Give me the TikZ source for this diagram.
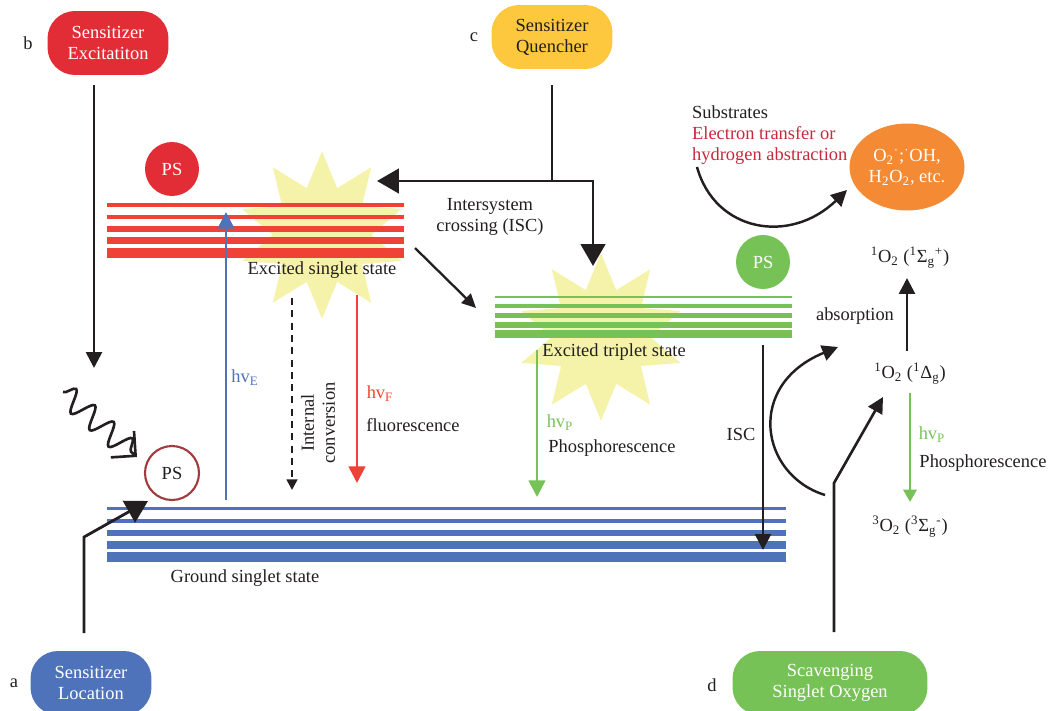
\documentclass[tikz,border=0pt]{standalone}
\usepackage{fontspec}
\setmainfont{Liberation Serif}
\usepackage{tikz}
\usetikzlibrary{positioning}
\usetikzlibrary{shapes.geometric}
\usetikzlibrary{arrows.meta}
\usetikzlibrary{decorations.pathmorphing}
\usepackage{xcolor}
\definecolor{exred}{HTML}{E32D36}
\definecolor{lvred}{HTML}{EF4136}
\definecolor{lvblue}{HTML}{4F73BA}
\definecolor{lvgreen}{HTML}{77C256}
\definecolor{quyellow}{HTML}{FDC73E}
\definecolor{roorange}{HTML}{F48A33}
\definecolor{flash}{HTML}{F5F2A9}
\definecolor{psring}{HTML}{A23A3E}
\definecolor{etred}{HTML}{C8283C}
\definecolor{ink}{HTML}{231F20}
\tikzset{every picture/.style={font=\fontsize{10.5}{12}\selectfont}}
\tikzset{stage/.style={
          rounded corners=0.55cm,
          minimum width=2.42cm, minimum height=1.28cm,
          align=center, text=white, inner sep=2pt
          },
        ps/.style={circle, minimum size=1.08cm, inner sep=0pt, text=white},
        flashstar/.style={star, star points=10, star point ratio=1.7,
          fill=flash, minimum size=3.35cm, inner sep=0pt},
        lab/.style={inner sep=1pt, align=center, text=ink},
        wire/.style={ink, line width=1.5pt},
        smallhead/.style={wire, -{Triangle[length=9pt,width=9pt]}},
        bighead/.style={wire, line width=1.6pt, -{Triangle[length=12.5pt,width=14pt]}},
        photon/.style={line width=1.5pt, -{Triangle[length=9.5pt,width=9.5pt]}},
}

\begin{document}
\begin{tikzpicture}[x=0.02cm, y=-0.02cm]
      \useasboundingbox (0,0) rectangle (1050,710);
      \clip (0,0) rectangle (1050,710);
      % flashes behind the levels
      \node[flashstar] (flash1) at (322,235) {};
      \node[flashstar] (flash2) at (601,337) {};

      % SENSITIZER BOXES
      \node[stage, fill=exred] (excite) at (108,43) {Sensitizer\\Excitatiton};
      \node[lab] (tagb) at (28,43) {b};
      \node[stage, fill=quyellow, text=ink] (quench) at (552,37) {Sensitizer\\Quencher};
      \node[lab] (tagc) at (474,37) {c};
      \node[stage, fill=lvblue] (locate) at (91,683) {Sensitizer\\Location};
      \node[lab] (taga) at (14,683) {a};
      \node[stage, fill=lvgreen, minimum width=3.9cm] (scavenge) at (830,683) {Scavenging\\Singlet Oxygen};
      \node[lab] (tagd) at (712,685) {d};

      % ENERGY LEVELS
      % excited singlet
      \draw[lvred, line width=1.9pt] (107,205) -- (404,205);
      \draw[lvred, line width=2.5pt] (107,217) -- (404,217);
      \draw[lvred, line width=3.3pt] (107,229) -- (404,229);
      \draw[lvred, line width=4.2pt] (107,240.7) -- (404,240.7);
      \draw[lvred, line width=5.5pt] (107,253) -- (404,253);
      \node[lab] (s1label) at (322,270) {Excited singlet state};
      % excited triplet
      \draw[lvgreen, line width=1.4pt] (495,297) -- (792,297);
      \draw[lvgreen, line width=2.1pt] (495,306) -- (792,306);
      \draw[lvgreen, line width=2.7pt] (495,315.3) -- (792,315.3);
      \draw[lvgreen, line width=3.2pt] (495,324.8) -- (792,324.8);
      \draw[lvgreen, line width=4.4pt] (495,333.8) -- (792,333.8);
      \node[lab] (t1label) at (614,352) {Excited triplet state};
      % ground singlet
      \draw[lvblue, line width=1.9pt] (107,508.3) -- (786,508.3);
      \draw[lvblue, line width=2.3pt] (107,521) -- (786,521);
      \draw[lvblue, line width=3.4pt] (107,533) -- (786,533);
      \draw[lvblue, line width=4.4pt] (107,545) -- (786,545);
      \draw[lvblue, line width=5.8pt] (107,557) -- (786,557);
      \node[lab] (s0label) at (245,578) {Ground singlet state};

      % PS
      \node[ps, fill=exred] (ps1) at (172,169) {PS};
      \node[ps, fill=lvgreen] (ps3) at (763,262) {PS};
      \node[ps, draw=psring, line width=1.2pt, fill=white, text=ink] (ps0) at (172,473) {PS};

      % WIRING
      % excitation
      \coordinate (b1) at (94,85);
      \coordinate (b2) at (94,368);
      \draw[smallhead] (b1) -- (b2);
      \coordinate (w1) at (63,392);
      \coordinate (w2) at (137,457);
      \draw[wire, -{Straight Barb[length=10pt,width=20pt]}, decorate,
            decoration={snake, amplitude=2.2mm, segment length=5mm, post length=1.5mm}] (w1) -- (w2);
      % location
      \coordinate (a1) at (84,633);
      \coordinate (a2) at (84,537);
      \coordinate (a3) at (148,501);
      \draw[bighead] (a1) -- (a2) -- (a3);
      % quencher
      \coordinate (q0) at (552,85);
      \coordinate (qsplit) at (552,181);
      \coordinate (qleft) at (377,181);
      \coordinate (qcorner) at (593,181);
      \coordinate (qdown) at (593,266);
      \draw[wire, line width=1.6pt] (q0) -- (qsplit);
      \draw[bighead] (qsplit) -- (qleft);
      \draw[bighead] (qsplit) -- (qcorner) -- (qdown);
      \node[lab] (isclabel) at (490,217) {Intersystem\\crossing (ISC)};
      \coordinate (st1) at (415,248);
      \coordinate (st2) at (476,308);
      \draw[smallhead, line width=1.3pt, -{Triangle[length=8pt,width=7.5pt]}] (st1) -- (st2);

      % singlet transitions
      \coordinate (e1) at (226,500);
      \coordinate (e2) at (226,212);
      \draw[photon, lvblue] (e1) -- (e2);
      \node[lab, text=lvblue] (hve) at (245,378) {hv\textsubscript{E}};
      \coordinate (ic1) at (292,298);
      \coordinate (ic2) at (292,490);
      \draw[wire, line width=1.4pt, dash pattern=on 4pt off 3pt, -{Triangle[length=6pt,width=6pt]}] (ic1) -- (ic2);
      \node[lab, rotate=90] (iclabel) at (318,423) {Internal\\conversion};
      \coordinate (f1) at (357,295);
      \coordinate (f2) at (357,483);
      \draw[photon, lvred] (f1) -- (f2);
      \node[lab, text=lvred] (hvf) at (380,394) {hv\textsubscript{F}};
      \node[lab] (flabel) at (413,425) {fluorescence};

      % triplet transitions
      \coordinate (p1) at (537,350);
      \coordinate (p2) at (537,497);
      \draw[photon, lvgreen] (p1) -- (p2);
      \node[lab, text=lvgreen] (hvp) at (560,423) {hv\textsubscript{P}};
      \node[lab] (plabel) at (612,448) {Phosphorescence};
      \coordinate (isc1) at (763,345);
      \coordinate (isc2) at (763,550);
      \draw[smallhead] (isc1) -- (isc2);
      \node[lab] (isc) at (741,434) {ISC};

      % SINGLET OXYGEN
      \node[lab] (o2sigma) at (910,258) {\textsuperscript{1}O\textsubscript{2} (\textsuperscript{1}Σ\textsubscript{g}\textsuperscript{+})};
      \node[lab] (o2delta) at (910,374) {\textsuperscript{1}O\textsubscript{2} (\textsuperscript{1}Δ\textsubscript{g})};
      \node[lab] (o2triplet) at (910,527) {\textsuperscript{3}O\textsubscript{2} (\textsuperscript{3}Σ\textsubscript{g}\textsuperscript{-})};
      \coordinate (up1) at (907,351);
      \coordinate (up2) at (907,278);
      \draw[smallhead] (up1) -- (up2);
      \node[lab] (absorb) at (855,316) {absorption};
      \coordinate (op1) at (910,393);
      \coordinate (op2) at (910,502);
      \draw[photon, lvgreen, line width=1.4pt, -{Triangle[length=7pt,width=7.5pt]}] (op1) -- (op2);
      \node[lab, text=lvgreen] (hvp2) at (932,435) {hv\textsubscript{P}};
      \node[lab] (plabel2) at (983,463) {Phosphorescence};
      \coordinate (c1) at (825,495);
      \coordinate (c2) at (838,347);
      \draw[smallhead, line width=1.4pt] (c1) .. controls (760,475) and (745,385) .. (c2);
      \coordinate (d1) at (834,632);
      \coordinate (d2) at (834,483);
      \coordinate (d3) at (883,397);
      \draw[smallhead] (d1) -- (d2) -- (d3);

      % radicals
      \node[ellipse, fill=roorange, text=white, minimum width=2.3cm, minimum height=1.74cm, align=center, inner sep=0pt] (ros) at (907,167)
        {O\textsubscript{2}\textsuperscript{·};\textsuperscript{·}OH,\\H\textsubscript{2}O\textsubscript{2}, etc.};
      \node[lab, align=left, anchor=west] (substr) at (690,135) {Substrates\\\textcolor{etred}{Electron transfer or}\\\textcolor{etred}{hydrogen abstraction}};
      \coordinate (r1) at (697,167);
      \coordinate (r2) at (847,190);
      \draw[smallhead, line width=1.4pt] (r1) .. controls (715,232) and (790,245) .. (r2);
\end{tikzpicture}
\end{document}
